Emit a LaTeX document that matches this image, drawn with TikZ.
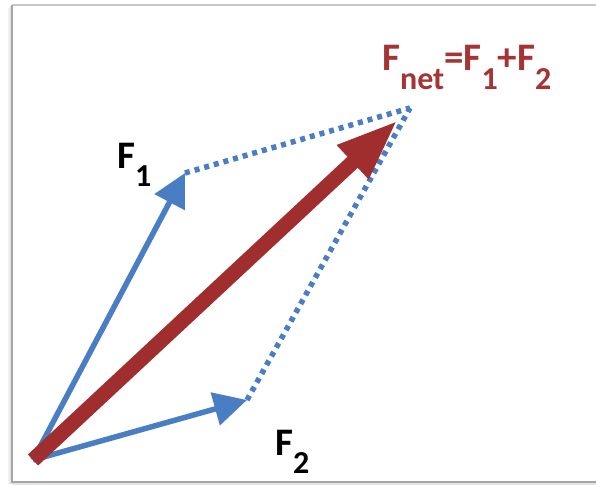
\documentclass[tikz,border=0pt]{standalone}
\usepackage{fontspec}
\setmainfont{Carlito}
\usetikzlibrary{arrows.meta}
\definecolor{vblue}{RGB}{74,126,196}
\definecolor{vred}{RGB}{160,46,46}
\definecolor{tred}{RGB}{165,52,52}
\newcommand\vsub[1]{\raisebox{-18pt}{\fontsize{32pt}{32pt}\selectfont #1}}
\newcommand\vbig[1]{{\fontsize{39pt}{39pt}\selectfont #1}}
\tikzset{
  vec/.style={vblue, line width=5.5pt, -{Triangle[length=33pt,width=33pt]}},
  netvec/.style={vred, line width=15pt, -{Triangle[length=62pt,width=42pt]}},
  guide/.style={vblue, line width=5.5pt, dash pattern=on 5pt off 5pt},
  lbl/.style={anchor=base west, inner sep=0pt, font=\bfseries}
}
\begin{document}
\begin{tikzpicture}[x=1pt,y=-1pt]
\useasboundingbox (0,0) rectangle (596,484);
\fill[white] (0,0) rectangle (596,484);
% frame with soft shadow
\draw[black!6, line width=3pt] (9,8) -- (9,484);
\draw[black!12, line width=2pt] (10.5,6) -- (10.5,484);
\draw[black!22, line width=1.2pt] (12,5) -- (600,5);
\draw[black!35, line width=1.5pt] (12,5) -- (12,482) -- (600,482);
\draw[black!10, line width=1.5pt] (12,484) -- (600,484);
% points
\coordinate (O) at (33,460);
\coordinate (A) at (185,173);
\coordinate (B) at (247,400);
\coordinate (P) at (410,108);
\coordinate (N) at (398,120);
% guides
\draw[guide] (A) -- (P);
\draw[guide] (B) -- (P);
% vectors
\draw[vec] (O) -- (A);
\draw[vec] (O) -- (B);
\draw[netvec] (O) -- (N);
% labels
\node[lbl] (l1) at (117,168) {\vbig{F}\vsub{1}};
\node[lbl] (l2) at (275,455) {\vbig{F}\vsub{2}};
\node[lbl, text=tred] (ln) at (382,71) {\vbig{F}\vsub{net}\vbig{=F}\vsub{1}\vbig{+F}\vsub{2}};
\end{tikzpicture}
\end{document}
